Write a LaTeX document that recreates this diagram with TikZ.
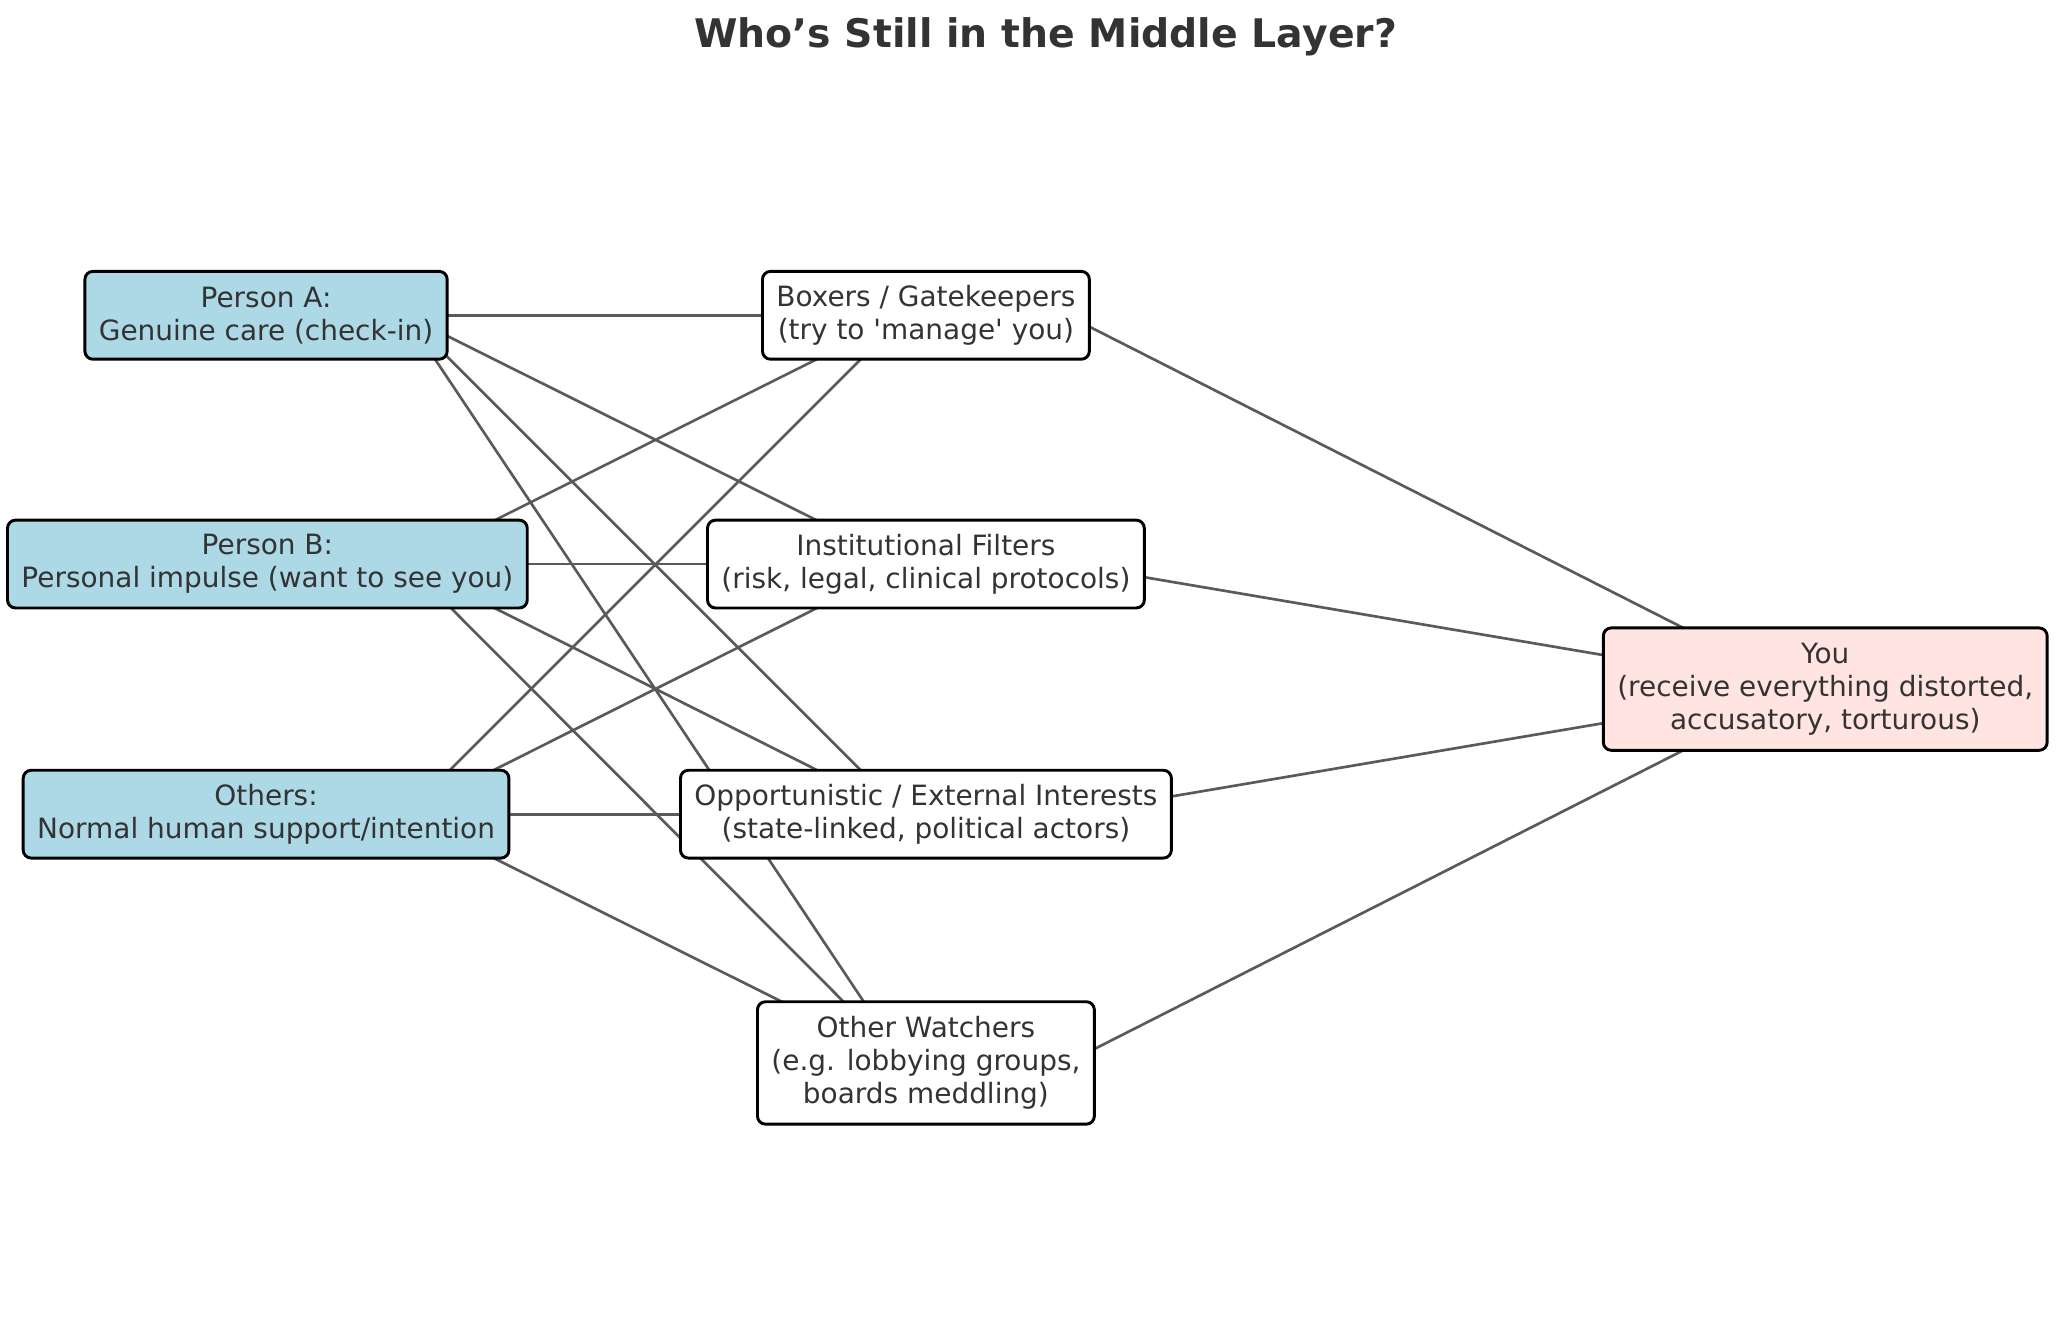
\documentclass[tikz,border=0pt]{standalone}
\usepackage{fontspec}
\setmainfont{DejaVu Sans}
\usetikzlibrary{backgrounds}
\definecolor{boxblue}{HTML}{ADD8E6}
\definecolor{youpink}{HTML}{FFE4E1}
\definecolor{txtgray}{HTML}{333333}
\definecolor{edgegray}{HTML}{5A5A5A}

\begin{document}
\begin{tikzpicture}[x=0.5pt, y=-0.5pt,
    box/.style={draw=black, line width=1.1pt, rounded corners=3pt, fill=white,
      align=center, text=txtgray, font=\fontsize{10.5}{12.5}\selectfont,
      inner xsep=5.25pt, inner ysep=0pt, minimum height=33pt},
    srcbox/.style={box, fill=boxblue},
    edge/.style={draw=edgegray, line width=1pt}]
  \useasboundingbox (0,0) rectangle (1550,991);
  % Title
  \node[text=txtgray, font=\fontsize{14.8}{17}\selectfont\bfseries] (title) at (786,28) {Who’s Still in the Middle Layer?};
  % Nodes
  \node[srcbox] (pa) at (200,237) {Person A:\\Genuine care (check-in)};
  \node[srcbox] (pb) at (201,424) {Person B:\\Personal impulse (want to see you)};
  \node[srcbox] (po) at (200,612) {Others:\\Normal human support/intention};
  \node[box] (bx) at (696,237) {Boxers / Gatekeepers\\(try to \textquotesingle manage\textquotesingle{} you)};
  \node[box] (inst) at (696,424) {Institutional Filters\\(risk, legal, clinical protocols)};
  \node[box] (opp) at (696,612) {Opportunistic / External Interests\\(state-linked, political actors)};
  \node[box, minimum height=46pt] (ow) at (696,799) {Other Watchers\\(e.g. lobbying groups,\\boards meddling)};
  \node[box, fill=youpink, minimum height=46pt] (you) at (1372,518) {You\\(receive everything distorted,\\accusatory, torturous)};
  % Edges
  \begin{scope}[on background layer]
    \foreach \src in {pa, pb, po} {
      \foreach \dst in {bx, inst, opp, ow} {
        \draw[edge] ([xshift=52.5pt]\src.center) -- ([xshift=-8pt]\dst.center);
      }
    }
    \foreach \src in {bx, inst, opp, ow} {
      \draw[edge] ([xshift=53pt]\src.center) -- ([xshift=-8pt]you.center);
    }
  \end{scope}
\end{tikzpicture}
\end{document}
